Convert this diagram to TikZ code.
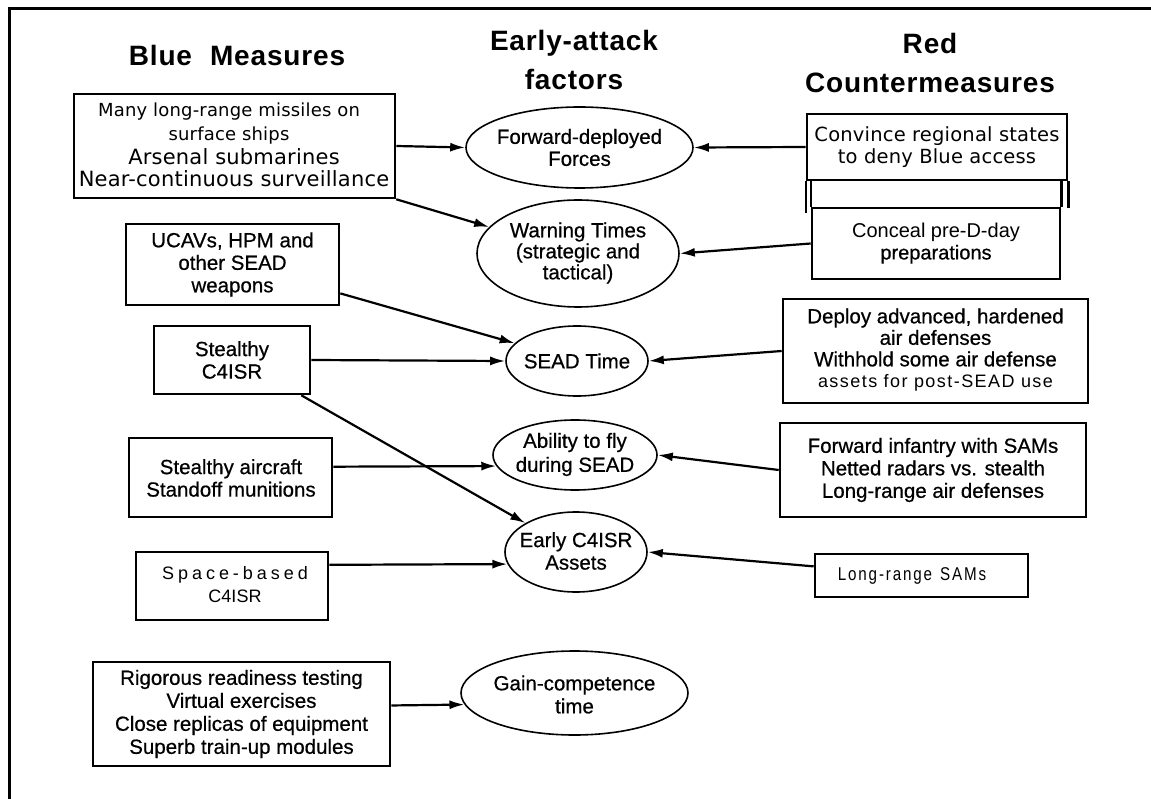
\documentclass[tikz,border=0pt]{standalone}
\usepackage{fontspec}
\setmainfont{Liberation Sans}
\newfontfamily\bodyfont[FakeBold=0.6]{Liberation Sans}
\newfontfamily\thinfont[LetterSpace=1]{DejaVu Sans}
\newfontfamily\spacedfont[LetterSpace=22]{Liberation Sans}
\newfontfamily\lightspfont[LetterSpace=8]{Liberation Sans}
\newfontfamily\narrowfont[FakeStretch=0.82,LetterSpace=10]{Liberation Sans}
\newfontfamily\headfont[LetterSpace=3]{Liberation Sans}
\usetikzlibrary{shapes.geometric,arrows.meta,calc}
\begin{document}
\begin{tikzpicture}[x=1pt,y=-1pt,
  box/.style={draw,line width=2.6pt,rectangle,inner sep=0pt,align=center},
  oval/.style={draw,ellipse,line width=1.6pt,inner sep=0pt},
  txt/.style={inner sep=0pt,align=center},
  arr/.style={-{Latex[length=15pt,width=9pt]},line width=2.2pt},
  ln/.style={line width=2.4pt},
  head/.style={inner sep=0pt,align=center,font=\headfont\bfseries\fontsize{28}{39}\selectfont},
  body/.style={font=\bodyfont\fontsize{20.5}{22.5}\selectfont}]
\useasboundingbox (0,0) rectangle (1151,799);
% frame
\draw[line width=3pt] (9,799) -- (9,9) -- (1151,9);
% headings
\node[head] (hb) at (237,55) {Blue\hspace{18pt}Measures};
\node[head] (he) at (574,60) {Early-attack\\factors};
\node[head] (hr) at (930,63) {Red\\Countermeasures};
% blue boxes
\node[box,minimum width=321,minimum height=104] (B1) at (234.5,146) {};
\node[txt,font=\thinfont\fontsize{18}{24}\selectfont] (B1a) at (229,124) {Many long-range missiles on\\surface ships};
\node[txt,font=\thinfont\fontsize{21}{22}\selectfont] (B1b) at (234,168) {Arsenal submarines\\Near-continuous surveillance};
\node[box,body,minimum width=213,minimum height=81] (B2) at (232.5,264.5) {UCAVs, HPM and\\other SEAD\\weapons};
\node[box,body,minimum width=156,minimum height=68] (B3) at (232,360) {Stealthy\\C4ISR};
\node[box,minimum width=203,minimum height=79] (B4) at (230.5,477.5) {};
\node[txt,body] (B4t) at (231,478) {Stealthy aircraft\\Standoff munitions};
\node[box,minimum width=192,minimum height=68] (B5) at (232,586) {};
\node[txt,font=\fontsize{18}{23}\selectfont] (B5t) at (235,584.5) {{\spacedfont Space-based}\\C4ISR};
\node[box,body,font=\bodyfont\fontsize{20.5}{23}\selectfont,minimum width=297,minimum height=104] (B6) at (241.5,714) {Rigorous readiness testing\\Virtual exercises\\Close replicas of equipment\\Superb train-up modules};
% factor ellipses
\node[oval,minimum width=227,minimum height=81] (F) at (579.5,147.5) {};
\node[txt,font=\bodyfont\fontsize{20.5}{22}\selectfont] (Ft) at (F) {Forward-deployed\\Forces};
\node[oval,minimum width=202,minimum height=107] (W) at (578,253.5) {};
\node[txt,font=\bodyfont\fontsize{20.5}{21}\selectfont] (Wt) at (578,253) {Warning Times\\(strategic and\\tactical)};
\node[oval,minimum width=142,minimum height=70] (S) at (577,361) {};
\node[txt,body] (St) at (S) {SEAD Time};
\node[oval,minimum width=164,minimum height=70] (A) at (575,455) {};
\node[txt,font=\bodyfont\fontsize{20.5}{24}\selectfont] (At) at (575,454.5) {Ability to fly\\during SEAD};
\node[oval,minimum width=142,minimum height=80] (E) at (576,552) {};
\node[txt,body] (Et) at (576,551) {Early C4ISR\\Assets};
\node[oval,minimum width=227,minimum height=84] (G) at (574.5,693) {};
\node[txt,font=\bodyfont\fontsize{20.5}{23}\selectfont] (Gt) at (574.5,694.5) {Gain-competence\\time};
% red boxes
\node[box,font=\thinfont\fontsize{19.5}{22}\selectfont,minimum width=260,minimum height=66] (R1) at (937,147) {Convince regional states\\to deny Blue access};
\node[box,font=\fontsize{20}{21.5}\selectfont,minimum width=248,minimum height=71] (R2) at (936,243.5) {Conceal pre-D-day\\{\bodyfont preparations}};
\node[box,minimum width=305,minimum height=104] (R3) at (935.5,351) {};
\node[txt,font=\bodyfont\fontsize{20.5}{21.5}\selectfont] (R3t) at (935.5,350) {Deploy advanced, hardened\\air defenses\\Withhold some air defense\\{\lightspfont\fontsize{18}{20}\selectfont assets for post-SEAD use}};
\node[box,body,minimum width=306,minimum height=94] (R4) at (933,470) {Forward infantry with SAMs\\Netted radars vs. stealth\\Long-range air defenses};
\node[box,minimum width=213,minimum height=43] (R5) at (921.5,575.5) {};
\node[txt,font=\narrowfont\fontsize{18.5}{20}\selectfont] (R5t) at (912,576) {Long-range\hspace{8pt}SAMs};
% R1 / R2 joining lines
\draw[ln] (R1.south west) -- ++(0,32);
\draw[ln] (R1.south east) -- ++(0,27);
\draw[ln] (R2.north west) -- (R2.north west |- R1.south);
\draw[ln] (R2.north east) -- (R2.north east |- R1.south);
% connectors
\draw[arr] (B1.east) -- (F.west);
\draw[arr] (B1.south east) -- (W);
\draw[arr] (R1.west) -- (F.east);
\draw[arr] (R2.west) -- (W.east);
\draw[arr] (B2.-15) -- (S);
\draw[arr] (B3.east) -- (S.west);
\draw[arr] (R3.west) -- (S.east);
\draw[arr] ($(B3.south east)+(-10,0)$) -- (E);
\draw[arr] (B4.6) -- (A.188);
\draw[arr] (R4.west) -- (A.east);
\draw[arr] ($(B5.north east)!0.2!(B5.south east)$) -- (E.190);
\draw[arr] ($(R5.north west)!0.3!(R5.south west)$) -- (E.east);
\draw[arr] ($(B6.north east)!0.42!(B6.south east)$) -- (G.186);
\end{tikzpicture}
\end{document}
